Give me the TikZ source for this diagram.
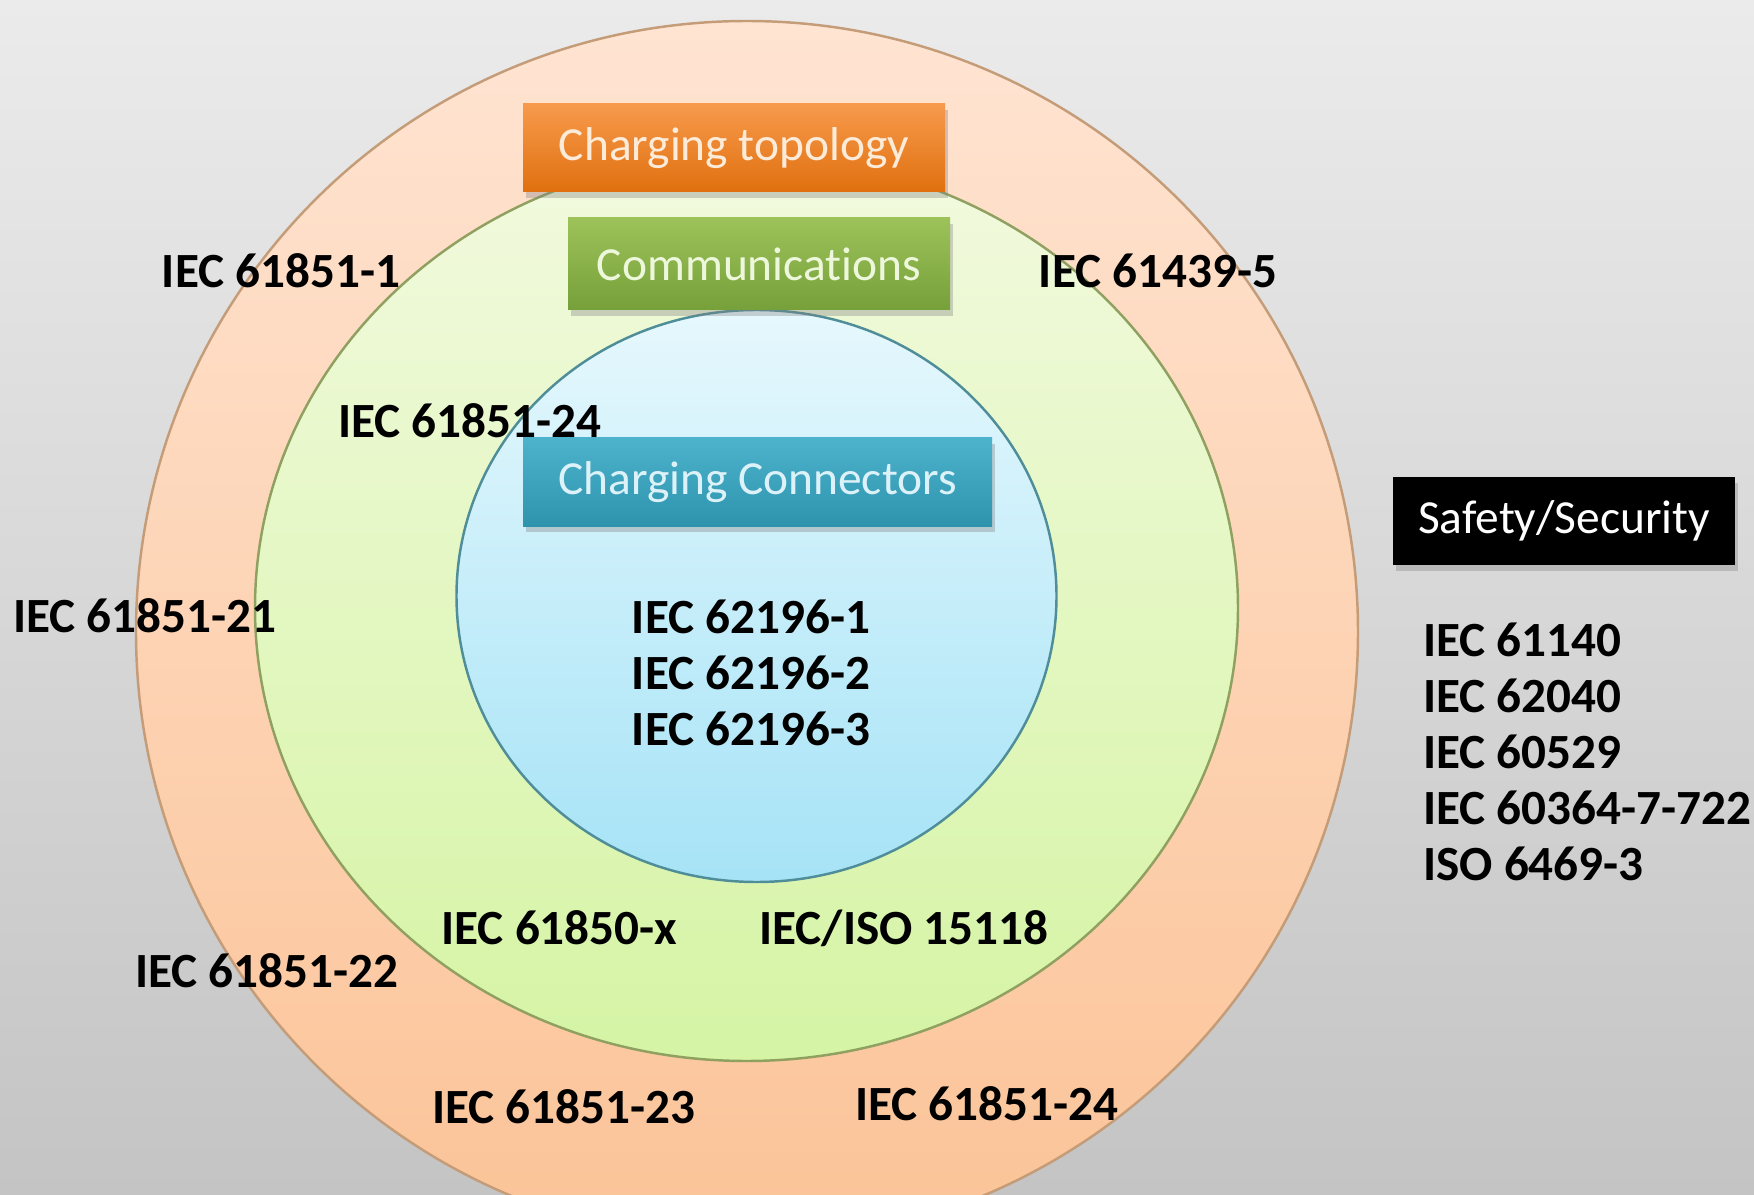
\documentclass[tikz,border=0pt]{standalone}
\usepackage{fontspec}
\setmainfont{Carlito}[Ligatures=NoCommon]
\usetikzlibrary{shadows}
\definecolor{bgtop}{HTML}{EBEBEB}
\definecolor{bgbot}{HTML}{C4C4C4}
\definecolor{ortop}{HTML}{FFE4D2}
\definecolor{orbot}{HTML}{FBC397}
\definecolor{orline}{HTML}{C49C78}
\definecolor{grtop}{HTML}{F2FADF}
\definecolor{grbot}{HTML}{D5F4A4}
\definecolor{grline}{HTML}{8FA060}
\definecolor{bltop}{HTML}{E6F8FD}
\definecolor{blbot}{HTML}{A6E3F6}
\definecolor{blline}{HTML}{4F8E98}
\definecolor{topotop}{HTML}{F79A4C}
\definecolor{topobot}{HTML}{E0700F}
\definecolor{topotx}{HTML}{FDEBD9}
\definecolor{commtop}{HTML}{9DC25A}
\definecolor{commbot}{HTML}{76A03A}
\definecolor{commtx}{HTML}{EDF7DC}
\definecolor{conntop}{HTML}{4DB3CC}
\definecolor{connbot}{HTML}{2E93AD}
\definecolor{conntx}{HTML}{DDF2F8}
\begin{document}
\begin{tikzpicture}[x=1cm,y=1cm,
  std/.style={font=\fontsize{14}{15.9}\selectfont\bfseries,inner sep=1pt},
  hdr/.style={minimum height=0.88cm,inner sep=0pt,font=\fontsize{13.5}{16}\selectfont,
    drop shadow={shadow xshift=0.03cm,shadow yshift=-0.06cm,opacity=0.35}}]
  \clip (0,0) rectangle (17.54,11.94);
  \shade[top color=bgtop,bottom color=bgbot] (0,0) rectangle (17.54,11.94);
  % three nested rings
  \shadedraw[draw=orline,line width=0.7pt,top color=ortop,bottom color=orbot] (7.47,5.62) circle[radius=6.11];
  \shadedraw[draw=grline,line width=0.7pt,top color=grtop,bottom color=grbot] (7.465,5.86) ellipse[x radius=4.915,y radius=4.53];
  \shadedraw[draw=blline,line width=0.7pt,top color=bltop,bottom color=blbot] (7.565,5.98) ellipse[x radius=3.0,y radius=2.86];
  % headings
  \node[hdr,minimum width=4.22cm,top color=topotop,bottom color=topobot,text=topotx] (topo) at (7.34,10.46) {Charging topology};
  \node[hdr,minimum width=3.82cm,minimum height=0.92cm,top color=commtop,bottom color=commbot,text=commtx] (comm) at (7.59,9.30) {Communications};
  \node[hdr,minimum width=4.69cm,top color=conntop,bottom color=connbot,text=conntx] (conn) at (7.575,7.12) {Charging Connectors};
  \node[hdr,minimum width=3.42cm,fill=black,text=white] (safe) at (15.64,6.73) {Safety/Security};
  % standards
  \node[std] (s1) at (2.81,9.23) {IEC 61851-1};
  \node[std] (s2) at (11.58,9.23) {IEC 61439-5};
  \node[std] (s3) at (4.70,7.73) {IEC 61851-24};
  \node[std] (s4) at (1.45,5.78) {IEC 61851-21};
  \node[std,align=center] (plug) at (7.51,5.21) {IEC 62196-1\\IEC 62196-2\\IEC 62196-3};
  \node[std] (s5) at (5.59,2.66) {IEC 61850-x};
  \node[std] (s6) at (9.04,2.66) {IEC/ISO 15118};
  \node[std] (s7) at (2.67,2.23) {IEC 61851-22};
  \node[std] (s8) at (5.64,0.87) {IEC 61851-23};
  \node[std] (s9) at (9.87,0.90) {IEC 61851-24};
  \node[std,align=left,anchor=west] (slist) at (14.19,4.42) {IEC 61140\\IEC 62040\\IEC 60529\\IEC 60364-7-722\\ISO 6469-3};
\end{tikzpicture}
\end{document}
